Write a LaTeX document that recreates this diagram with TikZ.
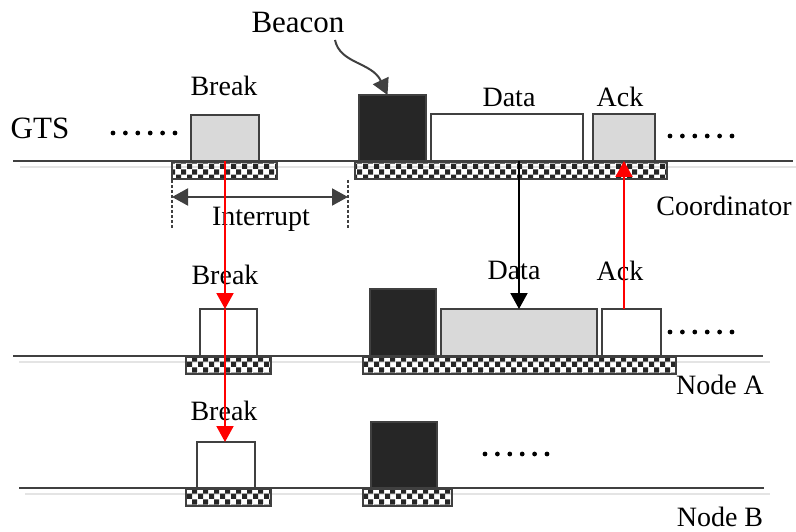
\documentclass[tikz,border=0pt]{standalone}
\usepackage{fontspec}
\setmainfont{Liberation Serif}
\usetikzlibrary{positioning,calc,arrows.meta,patterns.meta}
\definecolor{Ink}{HTML}{404040}
\definecolor{Slot}{HTML}{262626}
\definecolor{Shade}{HTML}{D9D9D9}
\definecolor{Faint}{HTML}{E4E4E4}
\definecolor{Alarm}{HTML}{FF0000}
\tikzdeclarepattern{name=gtschecks,type=uncolored,
  bounding box={(0pt,0pt) and (11pt,11pt)},tile size={(11pt,11pt)},
  code={\fill (0pt,0pt) rectangle (5.5pt,5.5pt);
        \fill (5.5pt,5.5pt) rectangle (11pt,11pt);}}
\tikzset{
  frame/.style 2 args={draw=Ink,line width=1.5pt,anchor=south west,inner sep=0pt,
    outer sep=0pt,minimum width=#1,minimum height=#2},
  check bar/.style={draw=Ink,line width=1.5pt,pattern=gtschecks,pattern color=Slot,
    anchor=south west,inner sep=0pt,outer sep=0pt,minimum height=17},
  time line/.style={line width=2pt,draw=Ink},
  shadow line/.style={line width=2pt,draw=Faint},
  tag/.style={font=\fontsize{28}{30}\selectfont,inner sep=0pt},
  big tag/.style={font=\fontsize{31}{33}\selectfont,inner sep=0pt},
  msg arrow/.style={-{Triangle[width=17pt,length=16pt]},line width=2pt},
  span arrow/.style={{Triangle[width=17pt,length=16pt]}-{Triangle[width=17pt,length=16pt]},
    line width=2pt,draw=Ink},
  span edge/.style={line width=1.5pt,draw=Ink,dash pattern=on 3pt off 2pt}
}

\begin{document}
\begin{tikzpicture}[x=1pt,y=-1pt]
  \useasboundingbox (0,0) rectangle (796,532);
  % time lines
  \draw[shadow line] (20,167) -- (796,167);
  \draw[time line] (13,161) -- (793,161);
  \draw[shadow line] (19,362) -- (770,362);
  \draw[time line] (13,356) -- (763,356);
  \draw[shadow line] (25,494) -- (770,494);
  \draw[time line] (19,488) -- (764,488);

  % coordinator
  \node[check bar,minimum width=105] (cgap) at (172,179) {};
  \node[check bar,minimum width=312] (cslot) at (355,179) {};
  \node[frame={68}{46},fill=Shade] (cbreak) at (191,161) {};
  \node[frame={67}{66},fill=Slot] (cbeacon) at (359,161) {};
  \node[frame={152}{47},fill=white] (cdata) at (431,161) {};
  \node[frame={62}{47},fill=Shade] (cack) at (593,161) {};

  % node A
  \node[check bar,minimum width=85] (agap) at (186,374) {};
  \node[check bar,minimum width=313] (aslot) at (363,374) {};
  \node[frame={57}{47},fill=white] (abreak) at (200,356) {};
  \node[frame={66}{67},fill=Slot] (abeacon) at (370,356) {};
  \node[frame={156}{47},fill=Shade] (adata) at (441,356) {};
  \node[frame={59}{47},fill=white] (aack) at (602,356) {};

  % node B
  \node[check bar,minimum width=85] (bgap) at (186,506) {};
  \node[check bar,minimum width=89] (bslot) at (363,506) {};
  \node[frame={58}{46},fill=white] (bbreak) at (197,488) {};
  \node[frame={66}{66},fill=Slot] (bbeacon) at (371,488) {};

  % dots
  \foreach \x/\y in {113/133,670/136,670/332,485/454}
    \foreach \k in {0,...,5}
      \fill (\x+12.4*\k,\y) circle (2.4pt);

  % labels
  \node[big tag] (gts) at (40,128) {GTS};
  \node[big tag] (beacon) at (298,23) {Beacon};
  \node[tag] (cbreaklbl) at (224,86) {Break};
  \node[tag] (cdatalbl) at (509,97) {Data};
  \node[tag] (cacklbl) at (620,97) {Ack};
  \node[tag] (interrupt) at (261,219) {Interrupt};
  \node[tag] (coord) at (724,206) {Coordinator};
  \node[tag] (abreaklbl) at (225,275) {Break};
  \node[tag] (adatalbl) at (514,270) {Data};
  \node[tag] (aacklbl) at (620,271) {Ack};
  \node[tag] (nodea) at (720,385) {Node A};
  \node[tag] (bbreaklbl) at (224,411) {Break};
  \node[tag] (nodeb) at (720,517) {Node B};

  % interrupt span
  \coordinate (intL) at (172,197);
  \coordinate (intR) at (348,197);
  \draw[span edge] (172,180) -- (172,228);
  \draw[span edge] (348,180) -- (348,228);
  \draw[span arrow] (intL) -- (intR);

  % beacon pointer
  \coordinate (beaconTail) at (335,40);
  \draw[msg arrow,draw=Ink] (beaconTail) .. controls (340,64) and (372,62) .. ($(cbeacon.north)+(-5,0)$);

  % messages
  \draw[msg arrow,draw=Alarm] (cbreak.south) -- (cbreak.south |- abreak.north);
  \draw[msg arrow,draw=Alarm] (cbreak.south |- abreak.north) -- (cbreak.south |- bbreak.north);
  \draw[msg arrow,draw=black] (adata.north |- cdata.south) -- (adata.north);
  \draw[msg arrow,draw=Alarm] (cack.south |- aack.north) -- (cack.south);
\end{tikzpicture}
\end{document}
